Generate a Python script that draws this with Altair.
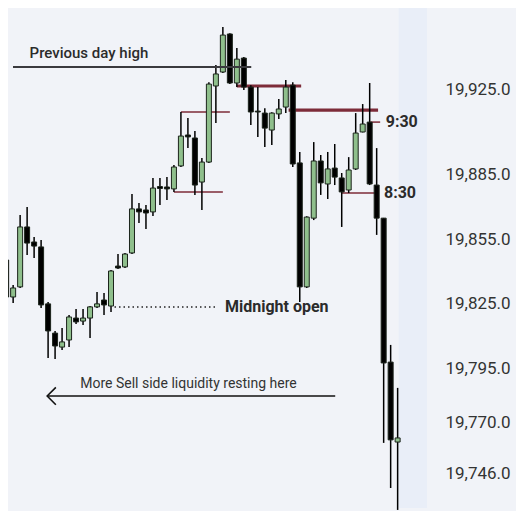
import altair as alt
import pandas as pd

# Candles (index, OHLC)
opens  = [19845.4, 19828.2, 19832.9, 19860.8, 19853.8, 19851.5, 19825.0, 19811.4, 19804.9, 19808.2,
          19818.4, 19817.0, 19818.4, 19823.6, 19826.8, 19824.0, 19842.6, 19842.2, 19848.7, 19869.2,
          19868.7, 19867.8, 19879.6, 19879.4, 19878.5, 19889.2, 19903.6, 19902.2, 19881.7, 19891.0,
          19926.4, 19932.9, 19950.6, 19927.8, 19939.4, 19925.9, 19914.7, 19913.8, 19905.9, 19913.4,
          19916.6, 19926.8, 19890.6, 19832.9, 19864.9, 19891.5, 19880.8, 19888.2, 19883.6, 19878.0,
          19887.8, 19905.0, 19909.6, 19880.3, 19864.9, 19797.9, 19760.7]
highs  = [19846.4, 19833.8, 19866.4, 19870.1, 19856.1, 19854.7, 19825.9, 19812.4, 19813.8, 19819.8,
          19822.6, 19822.6, 19824.0, 19830.5, 19830.1, 19840.8, 19848.2, 19848.7, 19876.1, 19871.9,
          19871.0, 19883.6, 19883.6, 19884.0, 19889.6, 19914.3, 19911.5, 19905.4, 19892.9, 19928.2,
          19936.2, 19953.8, 19951.0, 19944.1, 19939.9, 19926.8, 19925.9, 19916.1, 19914.2, 19920.3,
          19929.2, 19928.2, 19895.7, 19865.8, 19900.3, 19894.3, 19895.7, 19899.4, 19885.9, 19893.3,
          19913.8, 19918.0, 19927.8, 19897.5, 19865.0, 19805.9, 19785.9]
lows   = [19818.4, 19825.4, 19832.4, 19847.7, 19846.4, 19823.1, 19799.8, 19799.3, 19803.5, 19804.9,
          19815.6, 19815.2, 19809.1, 19823.1, 19819.8, 19821.2, 19841.2, 19841.7, 19848.2, 19862.6,
          19859.8, 19865.9, 19871.0, 19873.4, 19877.1, 19888.7, 19897.5, 19875.7, 19868.7, 19890.6,
          19909.2, 19932.4, 19927.3, 19925.9, 19924.5, 19908.2, 19902.7, 19898.0, 19898.9, 19911.0,
          19913.8, 19888.7, 19825.9, 19832.4, 19864.0, 19875.7, 19873.8, 19880.3, 19860.8, 19876.6,
          19887.3, 19904.8, 19880.3, 19857.1, 19760.3, 19739.3, 19729.1]
closes = [19828.2, 19832.4, 19860.8, 19853.3, 19851.9, 19824.5, 19812.4, 19805.4, 19807.3, 19818.9,
          19816.6, 19818.4, 19823.6, 19825.0, 19824.5, 19840.3, 19841.7, 19848.2, 19869.2, 19867.8,
          19867.3, 19878.9, 19878.7, 19878.5, 19888.7, 19903.1, 19902.7, 19880.3, 19891.0, 19927.3,
          19932.0, 19950.1, 19927.8, 19938.9, 19925.9, 19914.3, 19914.3, 19906.8, 19913.8, 19915.7,
          19925.9, 19890.1, 19832.9, 19865.4, 19891.5, 19881.3, 19887.8, 19884.0, 19877.1, 19887.3,
          19904.5, 19908.7, 19880.8, 19864.9, 19797.5, 19761.7, 19762.6]

axis_values = [19965.0, 19925.0, 19885.0, 19855.0, 19825.0, 19795.0, 19770.0, 19746.0, 19723.5]

# Annotation levels
prev_day_high = 19935.2
red_thin_levels = [19914.3, 19877.1]
red_thin_x = [25.0, 24.0]
red_thin_x2 = [32.0, 31.0]
red_thick_levels = [19926.4, 19915.2]
red_thick_x = [33.0, 40.4]
red_thick_x2 = [42.2, 53.2]
time_labels = ["9:30", "8:30"]
time_levels = [19909.6, 19876.6]
time_line_x = [52.1, 48.0]
time_line_x2 = [53.5, 53.1]
midnight_open = 19823.6
sell_side_level = 19782.1

X_MIN, X_MAX = 0.98, 60.2
Y_MIN, Y_MAX = 19730.0, 19962.7

df = pd.DataFrame({"i": list(range(len(opens))), "open": opens, "high": highs,
                   "low": lows, "close": closes})

xs = alt.Scale(domain=[X_MIN, X_MAX], nice=False, zero=False)
ys = alt.Scale(domain=[Y_MIN, Y_MAX], nice=False, zero=False)

yaxis = alt.Axis(values=axis_values, format=",.1f", orient="right", grid=False,
                 ticks=False, domain=False, labelFontSize=17, labelColor="#333333",
                 labelFont="Roboto", labelPadding=13, title=None, labelOverlap=False,
                 labelFlush=False)


def X(field):
    return alt.X(field, scale=xs, axis=None)


def Y(field):
    return alt.Y(field, scale=ys, axis=yaxis)


GREEN = "#8fbf8c"
BLACK = "#000000"
RED = "#7d2b39"
TXT = "#2b2b2b"

base = alt.Chart(df)

band = alt.Chart(pd.DataFrame({"x": [56.15], "x2": [X_MAX]})).mark_rect(
    color="#e9eef8").encode(x=X("x:Q"), x2="x2:Q")

thin_df = pd.DataFrame({"x": red_thin_x + time_line_x, "x2": red_thin_x2 + time_line_x2,
                        "y": red_thin_levels + time_levels})
red_thin = alt.Chart(thin_df).mark_rule(color=RED, strokeWidth=1.5).encode(
    x=X("x:Q"), x2="x2:Q", y=Y("y:Q"))

thick_df = pd.DataFrame({"x": red_thick_x, "x2": red_thick_x2, "y": red_thick_levels})
red_thick = alt.Chart(thick_df).mark_rule(color=RED, strokeWidth=3.2).encode(
    x=X("x:Q"), x2="x2:Q", y=Y("y:Q"))

wicks = base.mark_rule(color=BLACK, strokeWidth=1.5).encode(
    x=X("i:Q"), y=Y("low:Q"), y2="high:Q")

bodies = base.mark_bar(size=5, stroke="#1c241c", strokeWidth=1).encode(
    x=X("i:Q"), y=Y("open:Q"), y2="close:Q",
    color=alt.condition("datum.close >= datum.open", alt.value(GREEN), alt.value(BLACK)))

pdh_line = alt.Chart(pd.DataFrame({"x": [X_MIN], "x2": [35.06], "y": [prev_day_high]})).mark_rule(
    color="#3a3a3e", strokeWidth=2).encode(x=X("x:Q"), x2="x2:Q", y=Y("y:Q"))

mid_line = alt.Chart(pd.DataFrame({"x": [15.5], "x2": [29.9], "y": [midnight_open]})).mark_rule(
    color="#222222", strokeWidth=1.5, strokeDash=[1.5, 3]).encode(
    x=X("x:Q"), x2="x2:Q", y=Y("y:Q"))

arrow_line = alt.Chart(pd.DataFrame({"x": [5.87], "x2": [47.07], "y": [sell_side_level]})).mark_rule(
    color="#111111", strokeWidth=1.6).encode(x=X("x:Q"), x2="x2:Q", y=Y("y:Q"))

arrow_head = alt.Chart(pd.DataFrame({"x": [5.87], "y": [sell_side_level]})).mark_point(
    shape="M1,-1L0,0L1,1", size=300, filled=False, stroke="#111111",
    strokeWidth=1.6, opacity=1).encode(x=X("x:Q"), y=Y("y:Q"))

texts_df = pd.DataFrame({
    "x": [3.35, 31.3, 54.3, 54.05],
    "y": [19941.7, midnight_open, time_levels[0], time_levels[1]],
    "t": ["Previous day high", "Midnight open", time_labels[0], time_labels[1]],
})
bold_texts = alt.Chart(texts_df.iloc[1:]).mark_text(
    align="left", baseline="middle", font="Roboto", fontSize=16, fontWeight="bold",
    color=TXT).encode(x=X("x:Q"), y=Y("y:Q"), text="t:N")
pdh_text = alt.Chart(texts_df.iloc[:1]).mark_text(
    align="left", baseline="middle", font="Roboto", fontSize=15, fontWeight=500,
    color=TXT).encode(x=X("x:Q"), y=Y("y:Q"), text="t:N")

sell_text = alt.Chart(pd.DataFrame({"x": [10.6], "y": [19787.7],
                                    "t": ["More Sell side liquidity resting here"]})).mark_text(
    align="left", baseline="middle", font="Roboto", fontSize=14, color="#333333").encode(
    x=X("x:Q"), y=Y("y:Q"), text="t:N")

chart = alt.layer(
    band, red_thin, red_thick, wicks, bodies, pdh_line, mid_line,
    arrow_line, arrow_head, pdh_text, bold_texts, sell_text
).properties(
    width=424, height=500,
    padding={"left": 0, "top": 0, "right": 84, "bottom": 3},
    autosize=alt.AutoSizeParams(type="none"),
    background="#f1f3f8",
).configure_view(stroke=None, fill="#f1f3f8")

chart.save("out.html", embed_options={"renderer": "svg", "actions": False})
